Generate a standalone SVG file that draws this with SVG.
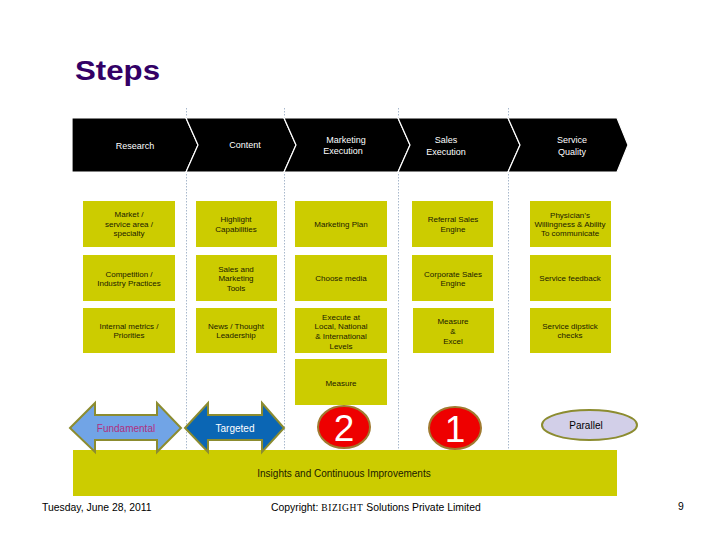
<svg xmlns="http://www.w3.org/2000/svg" width="728" height="546" viewBox="0 0 728 546">
<style>
.chev{fill:#000;stroke:#fff;stroke-width:1.2}
.ct{font-family:"Liberation Sans",Arial,sans-serif;font-size:9px;fill:#fff;text-anchor:middle}
.box{fill:#cccc00}
.bt{font-family:"Liberation Sans",Arial,sans-serif;font-size:8px;fill:#1a1a00;text-anchor:middle}
.dot{stroke:#a8b8cc;stroke-width:1;stroke-dasharray:1.5,1.5;fill:none}
.lbl{font-family:"Liberation Sans",Arial,sans-serif;font-size:10px;text-anchor:middle}
.num{font-family:"Liberation Sans",Arial,sans-serif;font-size:37px;fill:#fff;text-anchor:middle}
.foot{font-family:"Liberation Sans",Arial,sans-serif;font-size:10.4px;fill:#000}
</style>
<rect width="728" height="546" fill="#fff"/>
<text x="75" y="80" font-family="Liberation Sans,Arial,sans-serif" font-weight="bold" font-size="28" fill="#330066" textLength="85" lengthAdjust="spacingAndGlyphs">Steps</text>
<g id="connectors">
<line class="dot" x1="186.5" y1="108" x2="186.5" y2="450"/>
<line class="dot" x1="284.5" y1="108" x2="284.5" y2="450"/>
<line class="dot" x1="398.5" y1="108" x2="398.5" y2="450"/>
<line class="dot" x1="508.5" y1="108" x2="508.5" y2="450"/>
</g>
<g id="research"><polygon class="chev" points="72,118 186,118 198,145 186,172 72,172"/><text class="ct" x="135" y="149">Research</text></g>
<g id="content"><polygon class="chev" points="186,118 284,118 296,145 284,172 186,172 198,145"/><text class="ct" x="245" y="148">Content</text></g>
<g id="marketing-execution"><polygon class="chev" points="284,118 398,118 410,145 398,172 284,172 296,145"/><text class="ct" x="346" y="143">Marketing</text><text class="ct" x="343" y="154">Execution</text></g>
<g id="sales-execution"><polygon class="chev" points="398,118 508,118 520,145 508,172 398,172 410,145"/><text class="ct" x="446" y="143">Sales</text><text class="ct" x="446" y="155">Execution</text></g>
<g id="service-quality"><polygon class="chev" points="508,118 617,118 628,145 617,172 508,172 520,145"/><text class="ct" x="572" y="143">Service</text><text class="ct" x="572" y="155">Quality</text></g>

<g id="market"><rect class="box" x="83" y="201" width="92" height="46"/><text class="bt" x="129" y="217">Market /</text><text class="bt" x="129" y="227">service area /</text><text class="bt" x="129" y="236">specialty</text></g>
<g id="competition"><rect class="box" x="83" y="255" width="92" height="46"/><text class="bt" x="129" y="277">Competition /</text><text class="bt" x="129" y="286">Industry Practices</text></g>
<g id="internal-metrics"><rect class="box" x="83" y="308" width="92" height="45"/><text class="bt" x="129" y="329">Internal metrics /</text><text class="bt" x="129" y="338">Priorities</text></g>

<g id="highlight"><rect class="box" x="196" y="201" width="81" height="46"/><text class="bt" x="236" y="222">Highlight</text><text class="bt" x="236" y="232">Capabilities</text></g>
<g id="sales-tools"><rect class="box" x="196" y="255" width="81" height="46"/><text class="bt" x="236" y="272">Sales and</text><text class="bt" x="236" y="281">Marketing</text><text class="bt" x="236" y="291">Tools</text></g>
<g id="news"><rect class="box" x="196" y="308" width="81" height="45"/><text class="bt" x="236" y="329">News / Thought</text><text class="bt" x="236" y="338">Leadership</text></g>

<g id="marketing-plan"><rect class="box" x="295" y="201" width="92" height="46"/><text class="bt" x="341" y="227">Marketing Plan</text></g>
<g id="choose-media"><rect class="box" x="295" y="255" width="92" height="46"/><text class="bt" x="341" y="281">Choose media</text></g>
<g id="execute"><rect class="box" x="295" y="308" width="92" height="45"/><text class="bt" x="341" y="320">Execute at</text><text class="bt" x="341" y="329">Local, National</text><text class="bt" x="341" y="339">&amp; International</text><text class="bt" x="341" y="349">Levels</text></g>
<g id="measure"><rect class="box" x="295" y="359" width="92" height="46"/><text class="bt" x="341" y="386">Measure</text></g>

<g id="referral"><rect class="box" x="412" y="201" width="81" height="46"/><text class="bt" x="453" y="222">Referral Sales</text><text class="bt" x="453" y="232">Engine</text></g>
<g id="corporate"><rect class="box" x="412" y="255" width="81" height="46"/><text class="bt" x="453" y="277">Corporate Sales</text><text class="bt" x="453" y="286">Engine</text></g>
<g id="measure-excel"><rect class="box" x="413" y="308" width="81" height="45"/><text class="bt" x="453" y="324">Measure</text><text class="bt" x="453" y="334">&amp;</text><text class="bt" x="453" y="344">Excel</text></g>

<g id="physician"><rect class="box" x="530" y="201" width="81" height="46"/><text class="bt" x="570" y="218">Physician’s</text><text class="bt" x="570" y="227">Willingness &amp; Ability</text><text class="bt" x="570" y="236">To communicate</text></g>
<g id="service-feedback"><rect class="box" x="530" y="255" width="81" height="46"/><text class="bt" x="570" y="281">Service feedback</text></g>
<g id="dipstick"><rect class="box" x="530" y="308" width="81" height="45"/><text class="bt" x="570" y="329">Service dipstick</text><text class="bt" x="570" y="338">checks</text></g>

<g id="insights"><rect class="box" x="73" y="450" width="544" height="46"/><text class="lbl" x="344" y="477" font-size="9.5" fill="#1a1a00">Insights and Continuous Improvements</text></g>

<g id="fundamental"><path d="M70,428 L95,403 L95,415 L157,415 L157,403 L181,428 L157,452 L157,440 L95,440 L95,452 Z" fill="#71a4e6" stroke="#8c8c30" stroke-width="2"/><text class="lbl" x="126" y="432" fill="#b0307f">Fundamental</text></g>
<g id="targeted"><path d="M185,428 L208,403 L208,415 L262,415 L262,403 L284,428 L262,452 L262,440 L208,440 L208,452 Z" fill="#0b66b4" stroke="#8c8c30" stroke-width="2"/><text class="lbl" x="235" y="432" fill="#fff">Targeted</text></g>
<g id="two"><ellipse cx="344" cy="427" rx="26" ry="21" fill="#ee0000" stroke="#a07a30" stroke-width="2"/><text class="num" x="344" y="441">2</text></g>
<g id="one"><ellipse cx="455" cy="428" rx="26" ry="21" fill="#ee0000" stroke="#a07a30" stroke-width="2"/><text class="num" x="455" y="442">1</text></g>
<g id="parallel"><ellipse cx="589.5" cy="425" rx="47.5" ry="15" fill="#d2cfe8" stroke="#8c8c30" stroke-width="2"/><text class="lbl" x="586" y="428.5" fill="#000">Parallel</text></g>

<text class="foot" x="42" y="511">Tuesday, June 28, 2011</text>
<text class="foot" x="271" y="511">Copyright: <tspan font-family="Liberation Serif,serif" font-size="9.5" letter-spacing="0.6">BIZIGHT</tspan> Solutions Private Limited</text>
<text class="foot" x="678" y="510">9</text>
</svg>
